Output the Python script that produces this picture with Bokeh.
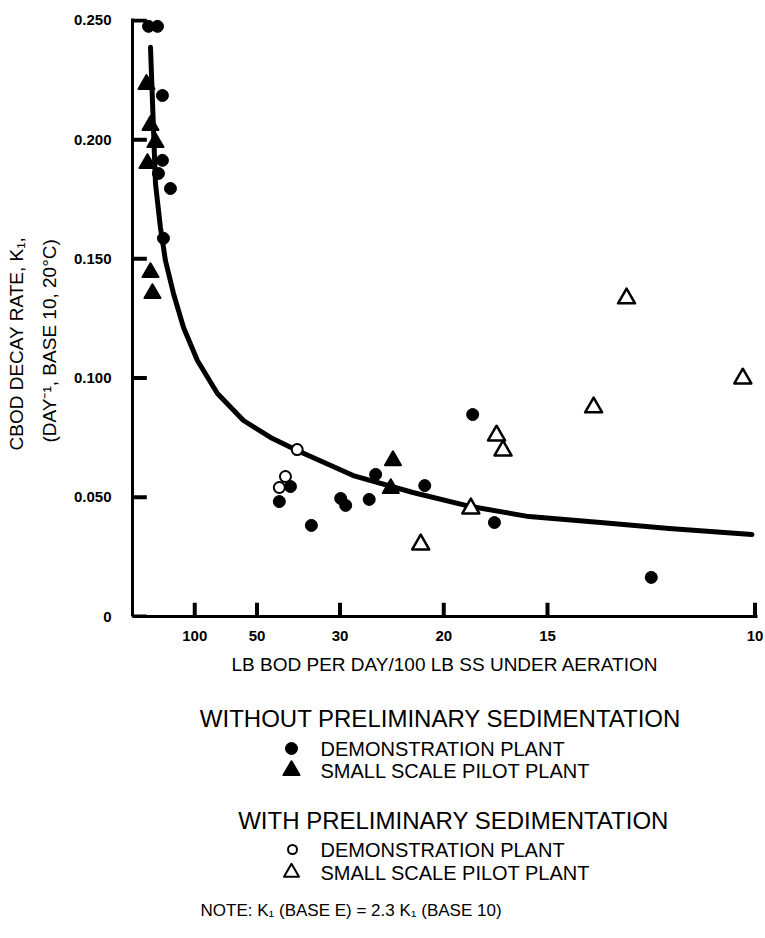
import math
from bokeh.plotting import figure
from bokeh.models import Range1d, FixedTicker, Title
from bokeh.layouts import column
from bokeh.embed import file_html
from bokeh.resources import INLINE
from bokeh.core.properties import value

FONT = "Liberation Sans"

# ---------------- data (x = LB BOD per day / 100 LB SS, plotted on a reciprocal scale) ----------
x_tick_loadings = [100, 50, 30, 20, 15, 10]
x_tick_labels = ["100", "50", "30", "20", "15", "10"]
y_ticks = [0.0, 0.05, 0.10, 0.15, 0.20, 0.25]
y_tick_labels = ["0", "0.050", "0.100", "0.150", "0.200", "0.250"]

# Without preliminary sedimentation - demonstration plant (filled circles)
demo_wo_load = [389, 249, 208, 208, 240, 164, 201, 42.4, 39.4, 34.8, 29.9, 29.2, 26.3, 25.6, 21.3, 18.3, 17.2, 12.0]
demo_wo_k = [0.2475, 0.2475, 0.2185, 0.1913, 0.1858, 0.1795, 0.1586, 0.0482, 0.0545, 0.0382, 0.0495, 0.0466, 0.0491, 0.0596, 0.0549, 0.0847, 0.0394, 0.0164]

# Without preliminary sedimentation - small scale pilot plant (filled triangles)
pilot_wo_load = [445, 346, 271, 415, 346, 312, 23.9, 24.1]
pilot_wo_k = [0.2232, 0.2060, 0.1988, 0.1900, 0.1443, 0.1355, 0.0654, 0.0537]

# With preliminary sedimentation - demonstration plant (open circles)
demo_w_load = [37.8, 40.7, 42.4]
demo_w_k = [0.0700, 0.0587, 0.0541]

# With preliminary sedimentation - small scale pilot plant (open triangles)
pilot_w_load = [12.6, 10.2, 13.5, 17.1, 16.8, 18.4, 21.6]
pilot_w_k = [0.1334, 0.0998, 0.0877, 0.0759, 0.0696, 0.0453, 0.0302]

# Fitted curve
curve_load = [346, 312, 271, 223, 189, 152, 122, 95.9, 73.3, 56.1, 45.1, 37.8, 28.2, 22.2, 18.4, 15.7, 13.3, 11.6, 10.05]
curve_k = [0.2387, 0.2164, 0.1816, 0.1632, 0.1493, 0.1355, 0.1212, 0.1074, 0.0935, 0.0822, 0.0751, 0.0696, 0.0591, 0.0520, 0.0461, 0.0419, 0.0394, 0.0369, 0.0344]

legend_headers = ["WITHOUT PRELIMINARY SEDIMENTATION", "WITH PRELIMINARY SEDIMENTATION"]
legend_labels = ["DEMONSTRATION PLANT", "SMALL SCALE PILOT PLANT", "DEMONSTRATION PLANT", "SMALL SCALE PILOT PLANT"]
note_text = "NOTE: K\u2081 (BASE E) = 2.3 K\u2081 (BASE 10)"
x_title = "LB BOD PER DAY/100 LB SS UNDER AERATION"
y_title_line1 = "CBOD DECAY RATE, K\u2081,"
y_title_line2 = "(DAY\u207b\u00b9, BASE 10, 20\u00b0C)"


def recip(vals):
    return [1.0 / v for v in vals]


# ---------------- main chart ----------------
p = figure(width=765, height=690,
           x_range=Range1d(0, 0.1004), y_range=Range1d(0, 0.2508),
           output_backend="svg", toolbar_location=None,
           min_border_left=132, min_border_right=8,
           min_border_top=18, min_border_bottom=74)
p.outline_line_color = None
p.grid.visible = False

xt = recip(x_tick_loadings)
p.xaxis.ticker = FixedTicker(ticks=xt)
p.xaxis.major_label_overrides = {t: lab for t, lab in zip(xt, x_tick_labels)}
p.yaxis.ticker = FixedTicker(ticks=y_ticks)
p.yaxis.major_label_overrides = {t: lab for t, lab in zip(y_ticks, y_tick_labels)}

for ax in (p.xaxis[0], p.yaxis[0]):
    ax.axis_line_width = 3
    ax.axis_line_color = "black"
    ax.major_tick_in = 12
    ax.major_tick_out = 0
    ax.major_tick_line_width = 3
    ax.major_tick_line_color = "black"
    ax.minor_tick_in = 0
    ax.minor_tick_out = 0
    ax.major_label_text_font = FONT
    ax.major_label_text_font_style = "bold"
    ax.major_label_text_color = "black"
    ax.axis_label_text_font = FONT
    ax.axis_label_text_font_style = "normal"
    ax.axis_label_text_color = "black"

p.xaxis.major_label_text_font_size = "15px"
p.xaxis.major_label_standoff = 14
p.xaxis.axis_label = x_title
p.xaxis.axis_label_text_font_size = "19px"
p.xaxis.axis_label_standoff = 10

p.yaxis.major_label_text_font_size = "15px"
p.yaxis.major_label_standoff = 21

# two-line y title as side titles, anchored at their lower end
t2 = Title(text=y_title_line2, align="left", offset=174, text_font=FONT, text_font_size="19px",
           text_font_style="normal", text_color="black", standoff=21)
t1 = Title(text=y_title_line1, align="left", offset=166, text_font=FONT, text_font_size="19px",
           text_font_style="normal", text_color="black", standoff=0)
p.add_layout(t2, "left")
p.add_layout(t1, "left")

# inward tick marks (kept just inside the frame edge)
ytick_len = 0.0023   # x-data units (~14 px)
xtick_len = 0.0058   # y-data units (~14 px)
p.multi_line(xs=[[0.0002, ytick_len] for _ in y_ticks], ys=[[t, t] for t in y_ticks],
             line_color="black", line_width=4)
p.multi_line(xs=[[t, t] for t in xt], ys=[[0.0005, xtick_len] for _ in xt],
             line_color="black", line_width=4)

p.line(recip(curve_load), curve_k, line_color="black", line_width=5, line_join="round", line_cap="round")

p.scatter(recip(demo_wo_load), demo_wo_k, marker="circle", size=12, fill_color="black", line_color="black")
p.scatter(recip(pilot_wo_load), pilot_wo_k, marker="triangle", size=16, fill_color="black", line_color="black", line_width=2, line_join="round")
p.scatter(recip(demo_w_load), demo_w_k, marker="circle", size=11, fill_color="white", line_color="black", line_width=2)
p.scatter(recip(pilot_w_load), pilot_w_k, marker="triangle", size=17, fill_color="white", line_color="black", line_width=2.5, line_join="round")

# ---------------- legend / note panel (coordinates = page pixels) ----------------
q = figure(width=765, height=248, x_range=Range1d(132, 757), y_range=Range1d(938, 690),
           output_backend="svg", toolbar_location=None,
           x_axis_type=None, y_axis_type=None,
           min_border_left=132, min_border_right=8, min_border_top=0, min_border_bottom=0)
q.outline_line_color = None
q.grid.visible = False

q.text(x=[440, 453], y=[718, 820], text=legend_headers,
       text_font=value(FONT), text_font_size="24px",
       text_align="center", text_baseline="middle", text_color="black")
q.text(x=[320, 320, 320, 320], y=[748, 770, 849, 872], text=legend_labels,
       text_font=value(FONT), text_font_size="20px",
       text_align="left", text_baseline="middle", text_color="black")
q.scatter([291], [748], marker="circle", size=12, fill_color="black", line_color="black")
q.scatter([291], [770], marker="triangle", size=16, fill_color="black", line_color="black", line_width=2, line_join="round")
q.scatter([292], [849], marker="circle", size=9, fill_color="white", line_color="black", line_width=2)
q.scatter([291], [872], marker="triangle", size=15, fill_color="white", line_color="black", line_width=2, line_join="round")
q.text(x=[200], y=[910], text=[note_text],
       text_font=value(FONT), text_font_size="17px",
       text_align="left", text_baseline="middle", text_color="black")

layout = column(p, q, spacing=0)
open("out.html", "w").write(file_html(layout, INLINE))
